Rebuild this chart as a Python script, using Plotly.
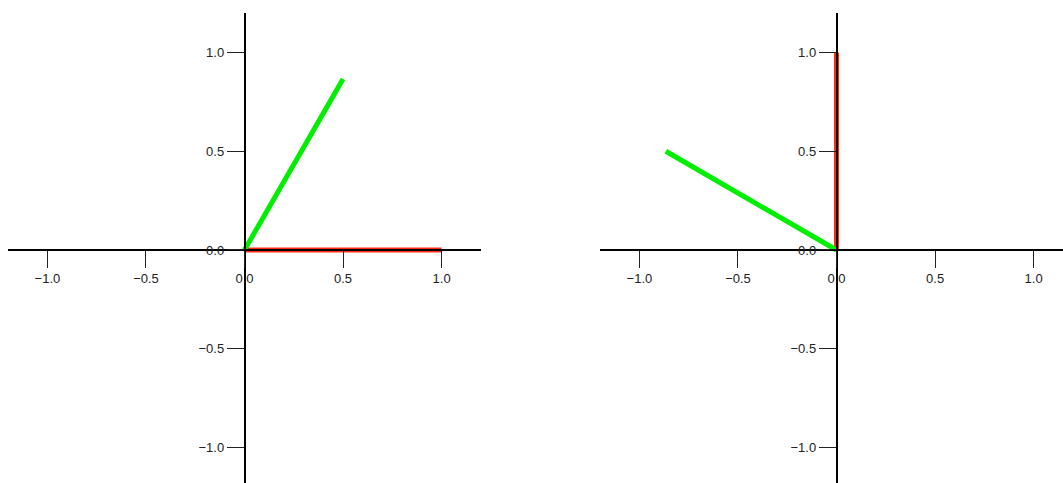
import plotly.graph_objects as go

# vectors (x, y) endpoints from origin
left_red_x = [0, 1.0]
left_red_y = [0, 0.0]
left_green_x = [0, 0.5]
left_green_y = [0, 0.866]
right_red_x = [0, 0.0]
right_red_y = [0, 1.0]
right_green_x = [0, -0.866]
right_green_y = [0, 0.5]
tick_vals = [-1.0, -0.5, 0.0, 0.5, 1.0]

RED = "#ff2a10"
GREEN = "#00ee00"

fig = go.Figure()
fig.add_trace(go.Scatter(x=left_red_x, y=left_red_y, mode="lines",
                         line=dict(color=RED, width=5), xaxis="x", yaxis="y"))
fig.add_trace(go.Scatter(x=left_green_x, y=left_green_y, mode="lines",
                         line=dict(color=GREEN, width=5), xaxis="x", yaxis="y"))
fig.add_trace(go.Scatter(x=right_red_x, y=right_red_y, mode="lines",
                         line=dict(color=RED, width=5), xaxis="x2", yaxis="y2"))
fig.add_trace(go.Scatter(x=right_green_x, y=right_green_y, mode="lines",
                         line=dict(color=GREEN, width=5), xaxis="x2", yaxis="y2"))

W, H = 1063, 483
PX = 197.1  # pixels per data unit horizontally
common = dict(showgrid=False, zeroline=False, showline=True, linecolor="black",
              linewidth=1.5, ticks="outside", ticklen=17, tickwidth=1,
              tickcolor="#222222", tickvals=tick_vals, tickformat=".1f",
              tickfont=dict(family="Liberation Sans, Arial", size=13, color="#222222"),
              fixedrange=True)

T = 13
plot_h = H - T
xpos = (H - 250) / plot_h
fig.update_layout(
    width=W, height=H,
    margin=dict(l=0, r=0, t=T, b=0),
    paper_bgcolor="white", plot_bgcolor="white",
    showlegend=False,
    xaxis=dict(domain=[8 / W, 481 / W], range=[-1.2, 1.2], anchor="free",
               position=xpos, **common),
    yaxis=dict(domain=[0, 1], range=[-1.18, 1.2], anchor="free",
               position=244.5 / W, **common),
    xaxis2=dict(domain=[600 / W, 1.0], range=[-1.2, -1.2 + (W - 600) / PX],
                anchor="free", position=xpos, **common),
    yaxis2=dict(domain=[0, 1], range=[-1.18, 1.2], anchor="free",
                position=(600 + 1.2 * PX) / W, **common),
)

fig.write_html("out.html", config={"displayModeBar": False},
               post_script="document.body.style.margin='0';"
                           "document.documentElement.style.overflow='hidden';")
